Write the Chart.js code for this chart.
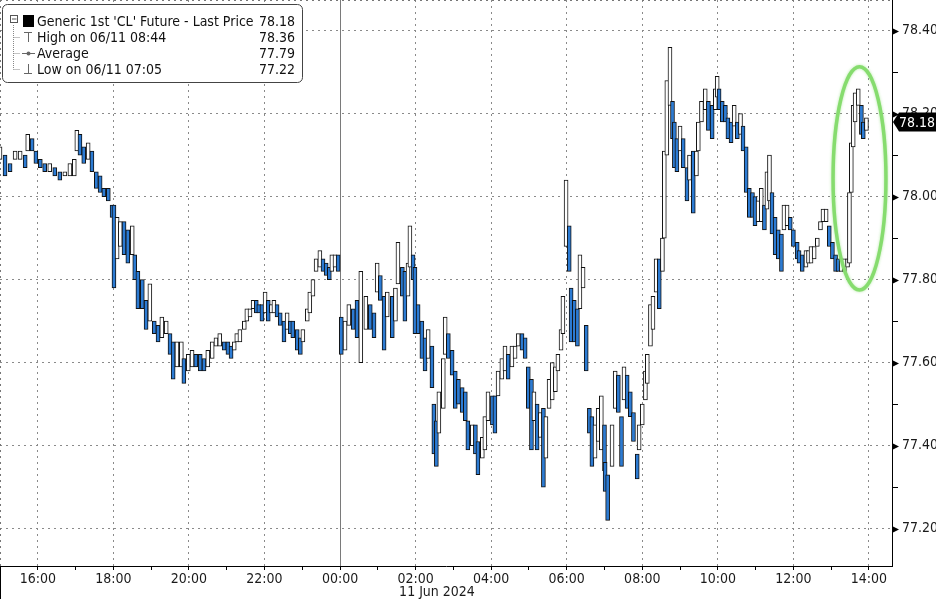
<!DOCTYPE html>
<html>
<head>
<meta charset="utf-8">
<script src="https://cdn.jsdelivr.net/npm/chart.js@4.4.1/dist/chart.umd.min.js"></script>
<style>
  html, body { margin: 0; padding: 0; background: #fff; }
  #wrap { width: 936px; height: 599px; }
</style>
</head>
<body>
<div id="wrap"><canvas id="clChart" width="936" height="599"></canvas></div>
<script>
// bar times (10 Jun 15:00 -> 11 Jun 14:00)
var times = [
  '15:00','15:08','15:16','15:24','15:32','15:40','15:44','15:51','15:57','16:04',
  '16:11','16:19','16:27','16:35','16:43','16:51','16:58','17:02','17:07','17:13',
  '17:20','17:26','17:33','17:39','17:45','17:52','17:58','18:01','18:06','18:11',
  '18:17','18:23','18:30','18:34','18:39','18:46','18:52','18:58','19:05','19:11',
  '19:17','19:24','19:30','19:35','19:41','19:48','19:52','19:59','20:05','20:11',
  '20:18','20:24','20:30','20:37','20:43','20:49','20:56','21:02','21:07','21:12',
  '21:16','21:21','21:28','21:32','21:37','21:42','21:47','21:51','21:56','22:01',
  '22:06','22:11','22:15','22:20','22:25','22:31','22:36','22:41','22:45','22:52',
  '22:57','23:01','23:08','23:12','23:17','23:22','23:28','23:33','23:38','23:43',
  '23:47','23:52','23:57','00:02','00:08','00:14','00:21','00:27','00:33','00:41',
  '00:48','00:54','00:59','01:04','01:10','01:15','01:23','01:28','01:32','01:39',
  '01:43','01:48','01:51','01:56','01:59','02:04','02:10','02:15','02:20','02:26',
  '02:29','02:33','02:37','02:44','02:47','02:52','02:58','03:03','03:08','03:14',
  '03:19','03:23','03:30','03:35','03:39','03:46','03:50','03:55','04:02','04:06',
  '04:11','04:17','04:22','04:27','04:33','04:38','04:43','04:49','04:54','04:59',
  '05:04','05:08','05:13','05:18','05:23','05:27','05:32','05:37','05:42','05:46',
  '05:51','05:54','05:59','06:04','06:07','06:12','06:17','06:21','06:26','06:31',
  '06:36','06:40','06:45','06:50','06:55','07:00','07:01','07:05','07:12','07:17',
  '07:22','07:27','07:31','07:36','07:41','07:46','07:52','07:55','08:00','08:05',
  '08:08','08:13','08:17','08:22','08:27','08:32','08:35','08:39','08:44','08:48',
  '08:51','08:55','09:00','09:05','09:11','09:15','09:21','09:26','09:29','09:34',
  '09:40','09:45','09:51','09:56','09:59','10:02','10:07','10:12','10:16','10:21',
  '10:26','10:31','10:36','10:40','10:45','10:50','10:55','10:59','11:04','11:09',
  '11:14','11:18','11:22','11:26','11:31','11:36','11:41','11:45','11:50','11:55',
  '12:00','12:06','12:09','12:14','12:20','12:24','12:28','12:33','12:38','12:43',
  '12:47','12:52','12:57','13:02','13:07','13:11','13:16','13:21','13:26','13:29',
  '13:32','13:35','13:38','13:43','13:48','13:51','13:56'
];

var highs = [
  78.12,78.10,78.08,78.11,78.11,78.10,78.15,78.14,78.11,78.09,
  78.08,78.08,78.07,78.06,78.06,78.08,78.09,78.16,78.15,78.12,
  78.13,78.11,78.06,78.05,78.02,78.02,77.98,77.98,77.95,77.94,
  77.94,77.92,77.93,77.86,77.82,77.80,77.75,77.79,77.70,77.69,
  77.71,77.70,77.67,77.65,77.65,77.65,77.61,77.62,77.63,77.62,
  77.62,77.61,77.63,77.65,77.66,77.67,77.65,77.65,77.64,77.65,
  77.67,77.68,77.70,77.73,77.73,77.75,77.75,77.74,77.74,77.77,
  77.75,77.74,77.75,77.74,77.72,77.70,77.72,77.70,77.70,77.68,
  77.66,77.68,77.73,77.77,77.80,77.85,77.87,77.85,77.84,77.83,
  77.86,77.86,77.86,77.71,77.70,77.74,77.73,77.75,77.82,77.76,
  77.74,77.72,77.84,77.81,77.76,77.77,77.76,77.78,77.89,77.83,
  77.82,77.84,77.93,77.86,77.83,77.74,77.70,77.66,77.68,77.64,
  77.50,77.46,77.53,77.61,77.71,77.67,77.63,77.58,77.56,77.54,
  77.53,77.46,77.45,77.45,77.41,77.42,77.47,77.53,77.52,77.52,
  77.58,77.61,77.64,77.62,77.64,77.64,77.67,77.67,77.66,77.59,
  77.56,77.53,77.50,77.48,77.49,77.47,77.56,77.60,77.59,77.62,
  77.68,77.76,78.04,77.93,77.78,77.75,77.73,77.86,77.83,77.69,
  77.49,77.47,77.45,77.49,77.52,77.45,77.36,77.33,77.45,77.58,
  77.57,77.47,77.59,77.57,77.53,77.48,77.38,77.45,77.50,77.58,
  77.62,77.74,77.76,77.85,77.85,77.90,78.11,78.28,78.36,78.23,
  78.18,78.14,78.17,78.14,78.07,78.10,78.11,78.11,78.18,78.23,
  78.26,78.23,78.22,78.26,78.29,78.26,78.23,78.22,78.19,78.18,
  78.22,78.18,78.20,78.17,78.12,78.02,78.01,78.00,77.99,78.02,
  77.98,78.06,78.10,78.01,77.95,77.92,77.91,77.98,77.98,77.95,
  77.92,77.89,77.87,77.86,77.87,77.87,77.88,77.88,77.90,77.94,
  77.97,77.97,77.93,77.89,77.86,77.85,77.85,77.85,77.85,78.01,
  78.13,78.22,78.25,78.26,78.22,78.18,78.19
];

var lows = [
  78.09,78.05,78.06,78.09,78.09,78.07,78.11,78.11,78.08,78.07,
  78.06,78.06,78.05,78.04,78.05,78.05,78.05,78.11,78.10,78.08,
  78.09,78.06,78.02,78.01,78.00,77.99,77.95,77.78,77.85,77.88,
  77.86,77.84,77.86,77.80,77.73,77.73,77.68,77.70,77.67,77.65,
  77.66,77.67,77.62,77.56,77.59,77.59,77.55,77.58,77.59,77.59,
  77.58,77.58,77.59,77.61,77.64,77.64,77.63,77.62,77.61,77.63,
  77.65,77.65,77.68,77.70,77.71,77.73,77.72,77.72,77.70,77.72,
  77.70,77.72,77.72,77.71,77.69,77.65,77.68,77.67,77.66,77.63,
  77.62,77.65,77.70,77.72,77.76,77.82,77.83,77.82,77.81,77.80,
  77.82,77.83,77.82,77.62,77.63,77.69,77.68,77.66,77.60,77.68,
  77.68,77.66,77.77,77.75,77.63,77.71,77.66,77.70,77.79,77.76,
  77.70,77.76,77.83,77.80,77.67,77.67,77.61,77.58,77.61,77.54,
  77.38,77.35,77.43,77.49,77.62,77.61,77.57,77.49,77.50,77.48,
  77.46,77.39,77.40,77.38,77.33,77.37,77.39,77.46,77.45,77.43,
  77.52,77.56,77.58,77.56,77.59,77.61,77.64,77.63,77.61,77.49,
  77.39,77.46,77.39,77.42,77.30,77.37,77.49,77.51,77.53,77.58,
  77.63,77.67,77.88,77.82,77.65,77.65,77.64,77.73,77.78,77.58,
  77.43,77.35,77.37,77.41,77.39,77.34,77.29,77.22,77.35,77.49,
  77.48,77.35,77.51,77.49,77.47,77.41,77.32,77.39,77.45,77.51,
  77.55,77.64,77.68,77.77,77.73,77.82,77.90,78.10,78.22,78.14,
  78.07,78.06,78.11,78.07,77.99,78.04,77.96,78.05,78.11,78.18,
  78.21,78.16,78.14,78.21,78.24,78.21,78.18,78.18,78.14,78.13,
  78.17,78.14,78.15,78.11,78.01,77.95,77.95,77.93,77.94,77.94,
  77.92,77.97,77.99,77.91,77.86,77.85,77.82,77.92,77.93,77.92,
  77.88,77.85,77.84,77.82,77.83,77.84,77.84,77.85,77.88,77.92,
  77.94,77.94,77.88,77.85,77.82,77.82,77.82,77.82,77.83,77.84,
  78.01,78.12,78.18,78.22,78.15,78.14,78.16
];

var xLabels = ['16:00','18:00','20:00','22:00','00:00','02:00','04:00','06:00','08:00','10:00','12:00','14:00'];
var yLabels = ['77.20','77.40','77.60','77.80','78.00','78.20','78.40'];
var dateLabel = '11 Jun 2024';
var dateLabelTime = '02:34';
var lastPrice = 78.18;

var legendRows = [
  { icon: 'last', text: "Generic 1st 'CL' Future - Last Price", value: '78.18' },
  { icon: 'high', text: 'High on 06/11 08:44', value: '78.36' },
  { icon: 'avg', text: 'Average', value: '77.79' },
  { icon: 'low', text: 'Low on 06/11 07:05', value: '77.22' }
];

// green ring round the last rally
var ringTime = '13:45', ringPrice = 78.044, ringHours = 0.70, ringSpan = 0.269;

function toHour(t) {
  var p = t.split(':');
  var h = +p[0], m = +p[1];
  if (h < 15) h += 24;
  return h + m / 60;
}

var xMajor = xLabels.map(toHour);
var xMinor = xMajor.map(function (v) { return v - 1; });
var xTicks = xMajor.concat(xMinor).sort(function (a, b) { return a - b; });
var yMajor = yLabels.map(Number);
var yTicks = [];
yMajor.forEach(function (v) {
  yTicks.push(v);
  if (v + 0.1 < 78.47) yTicks.push(Math.round((v + 0.1) * 100) / 100);
});

var bars = times.map(function (t, i) {
  return { x: toHour(t), y: [lows[i], highs[i]] };
});

var FONT = '"DejaVu Sans Condensed", "DejaVu Sans", sans-serif';
Chart.defaults.font.family = FONT;
Chart.defaults.font.size = 14;
Chart.defaults.color = '#1a1a1a';

function isMajor(list, v) {
  return list.some(function (m) { return Math.abs(m - v) < 1e-6; });
}

var decorations = {
  id: 'decorations',
  beforeDatasetsDraw: function (chart) {
    var c = chart.ctx, a = chart.chartArea, x = chart.scales.x;
    c.save();
    // midnight separator
    var mx = Math.round(x.getPixelForValue(24)) + 0.5;
    c.strokeStyle = '#7a7a7a';
    c.lineWidth = 1;
    c.beginPath();
    c.moveTo(mx, a.top);
    c.lineTo(mx, a.bottom);
    c.stroke();
    // dotted frame at left and top
    c.strokeStyle = '#777';
    c.setLineDash([2, 4]);
    c.beginPath();
    c.moveTo(0.5, a.top);
    c.lineTo(0.5, a.bottom);
    c.moveTo(a.left, 0.5);
    c.lineTo(a.right, 0.5);
    c.stroke();
    c.restore();
  },
  afterDraw: function (chart) {
    var c = chart.ctx, a = chart.chartArea, x = chart.scales.x, y = chart.scales.y;
    c.save();

    // left edge below the time axis
    c.strokeStyle = '#000';
    c.lineWidth = 1;
    c.beginPath();
    c.moveTo(0.5, a.bottom);
    c.lineTo(0.5, chart.height);
    c.stroke();

    // arrow heads on the price axis
    c.fillStyle = '#000';
    yMajor.forEach(function (v) {
      var py = Math.round(y.getPixelForValue(v)) + 0.5;
      c.beginPath();
      c.moveTo(a.right, py - 3.5);
      c.lineTo(a.right + 7, py);
      c.lineTo(a.right, py + 3.5);
      c.closePath();
      c.fill();
    });

    // last price tag
    var ly = y.getPixelForValue(lastPrice);
    c.fillStyle = '#000';
    c.beginPath();
    c.moveTo(a.right + 1, ly);
    c.lineTo(a.right + 7, ly - 9.5);
    c.lineTo(chart.width, ly - 9.5);
    c.lineTo(chart.width, ly + 9.5);
    c.lineTo(a.right + 7, ly + 9.5);
    c.closePath();
    c.fill();
    c.fillStyle = '#fff';
    c.font = '14px ' + FONT;
    c.textBaseline = 'middle';
    c.textAlign = 'left';
    c.fillText(lastPrice.toFixed(2), a.right + 7, ly + 1);

    // date under the time axis
    c.fillStyle = '#1a1a1a';
    c.textAlign = 'center';
    c.fillText(dateLabel, x.getPixelForValue(toHour(dateLabelTime)), 592);

    // green ring
    var cx = x.getPixelForValue(toHour(ringTime));
    var rx = x.getPixelForValue(toHour(ringTime) + ringHours) - cx;
    var cy = y.getPixelForValue(ringPrice);
    var ry = y.getPixelForValue(ringPrice - ringSpan) - cy;
    c.strokeStyle = '#86dc6e';
    c.lineWidth = 3.5;
    c.shadowColor = 'rgba(134,220,110,0.6)';
    c.shadowBlur = 3;
    c.beginPath();
    c.ellipse(cx, cy, rx, ry, 0, 0, Math.PI * 2);
    c.stroke();
    c.shadowBlur = 0;

    // legend box
    var bx = 2.5, by = 4.5, bw = 300, bh = 78, r = 5;
    c.fillStyle = '#fff';
    c.strokeStyle = '#444';
    c.lineWidth = 1;
    c.beginPath();
    c.moveTo(bx + r, by);
    c.arcTo(bx + bw, by, bx + bw, by + bh, r);
    c.arcTo(bx + bw, by + bh, bx, by + bh, r);
    c.arcTo(bx, by + bh, bx, by, r);
    c.arcTo(bx, by, bx + bw, by, r);
    c.closePath();
    c.fill();
    c.stroke();

    var rowY = [21, 37, 53, 69];
    // tree lines
    c.strokeStyle = '#888';
    c.setLineDash([1, 1]);
    c.beginPath();
    c.moveTo(13.5, 25);
    c.lineTo(13.5, rowY[3] + 0.5);
    for (var k = 1; k < 4; k++) {
      c.moveTo(13.5, rowY[k] + 0.5);
      c.lineTo(20, rowY[k] + 0.5);
    }
    c.stroke();
    c.setLineDash([]);
    c.strokeStyle = '#555';
    c.strokeRect(10.5, 15.5, 7, 7);
    c.beginPath();
    c.moveTo(12, 19);
    c.lineTo(16.5, 19);
    c.stroke();

    c.font = '14px ' + FONT;
    c.textBaseline = 'middle';
    legendRows.forEach(function (row, i) {
      var ry2 = rowY[i];
      c.strokeStyle = '#666';
      c.fillStyle = '#000';
      if (row.icon === 'last') {
        c.fillRect(23, ry2 - 6, 11, 12);
      } else if (row.icon === 'high') {
        c.beginPath();
        c.moveTo(24, ry2 - 4.5); c.lineTo(32, ry2 - 4.5);
        c.moveTo(28.5, ry2 - 4.5); c.lineTo(28.5, ry2 + 5);
        c.stroke();
      } else if (row.icon === 'avg') {
        c.beginPath();
        c.moveTo(22, ry2 + 0.5); c.lineTo(35, ry2 + 0.5);
        c.stroke();
        c.fillStyle = '#666';
        c.beginPath();
        c.arc(28.5, ry2 + 0.5, 2, 0, Math.PI * 2);
        c.fill();
      } else {
        c.beginPath();
        c.moveTo(28.5, ry2 - 5); c.lineTo(28.5, ry2 + 4.5);
        c.moveTo(24, ry2 + 4.5); c.lineTo(32, ry2 + 4.5);
        c.stroke();
      }
      c.fillStyle = '#111';
      c.textAlign = 'left';
      c.fillText(row.text, 37, ry2 + 1);
      c.textAlign = 'right';
      c.fillText(row.value, 295, ry2 + 1);
    });
    c.restore();
  }
};

var ctx = document.getElementById('clChart').getContext('2d');
var chart = new Chart(ctx, {
  type: 'bar',
  data: {
    datasets: [{
      data: bars,
      barThickness: 4,
      borderWidth: 1,
      borderColor: '#111',
      borderSkipped: false,
      backgroundColor: function (c) {
        var i = c.dataIndex;
        if (i === undefined || i === 0) return '#fff';
        var now = highs[i] + lows[i], before = highs[i - 1] + lows[i - 1];
        return now >= before ? '#ffffff' : '#2c7bd3';
      }
    }]
  },
  options: {
    responsive: false,
    animation: false,
    devicePixelRatio: 1,
    layout: { padding: 0 },
    plugins: { legend: { display: false }, tooltip: { enabled: false } },
    scales: {
      x: {
        type: 'linear',
        min: 15,
        max: 38.61,
        offset: false,
        afterBuildTicks: function (s) {
          s.ticks = xTicks.map(function (v) { return { value: v }; });
        },
        afterFit: function (s) {
          s.height = 33;
          s.paddingLeft = 0;
          s.paddingRight = 0;
        },
        grid: {
          offset: false,
          lineWidth: 1,
          color: function (c) {
            var v = c.tick && c.tick.value;
            return (isMajor(xMajor, v) && v !== 24) ? '#8a8a8a' : 'rgba(0,0,0,0)';
          },
          tickColor: '#000',
          tickLength: 4
        },
        border: { color: '#000', width: 1, dash: [2, 4] },
        ticks: {
          autoSkip: false,
          maxRotation: 0,
          padding: 1,
          color: '#1a1a1a',
          font: { size: 14 },
          callback: function (v) {
            var i = xMajor.findIndex(function (m) { return Math.abs(m - v) < 1e-6; });
            return i >= 0 ? xLabels[i] : '';
          }
        }
      },
      y: {
        type: 'linear',
        position: 'right',
        min: 77.11,
        max: 78.474,
        afterBuildTicks: function (s) {
          s.ticks = yTicks.map(function (v) { return { value: v }; });
        },
        afterFit: function (s) {
          s.width = 44;
          s.paddingTop = 0;
          s.paddingBottom = 0;
        },
        grid: {
          lineWidth: 1,
          color: function (c) {
            return isMajor(yMajor, c.tick && c.tick.value) ? '#8a8a8a' : 'rgba(0,0,0,0)';
          },
          tickColor: function (c) {
            return isMajor(yMajor, c.tick && c.tick.value) ? 'rgba(0,0,0,0)' : '#000';
          },
          tickLength: 6
        },
        border: { color: '#000', width: 1, dash: [2, 4] },
        ticks: {
          padding: 4,
          color: '#1a1a1a',
          font: { size: 14 },
          callback: function (v) {
            var i = yMajor.findIndex(function (m) { return Math.abs(m - v) < 1e-6; });
            return i >= 0 ? yLabels[i] : '';
          }
        }
      }
    }
  },
  plugins: [decorations]
});
</script>
</body>
</html>
